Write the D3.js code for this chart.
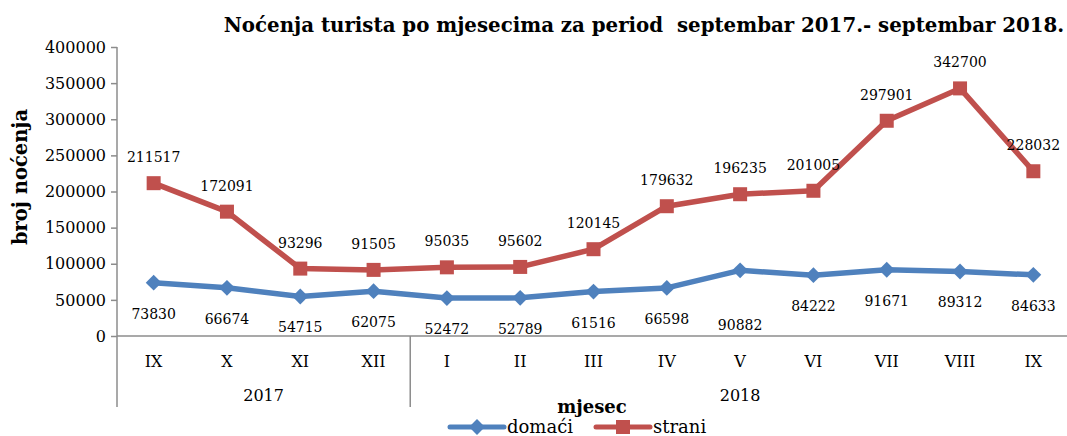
<!DOCTYPE html>
<html>
<head>
<meta charset="utf-8">
<script src="https://cdn.jsdelivr.net/npm/d3@7"></script>
<style>
  body { margin: 0; background: #fff; }
  svg { font-family: "DejaVu Serif", serif; }
</style>
</head>
<body>
<svg id="canvas" width="1067" height="436"></svg>
<script>
let months = ["IX", "X", "XI", "XII", "I", "II", "III", "IV", "V", "VI", "VII", "VIII", "IX"]
let years = [
    {label: "2017", from: 0, to: 4},
    {label: "2018", from: 4, to: 13}
]
let domaci = [73830, 66674, 54715, 62075, 52472, 52789, 61516, 66598, 90882, 84222, 91671, 89312, 84633]
let strani = [211517, 172091, 93296, 91505, 95035, 95602, 120145, 179632, 196235, 201005, 297901, 342700, 228032]
let yTicks = [0, 50000, 100000, 150000, 200000, 250000, 300000, 350000, 400000]

let blue = "#4f81bd"
let red = "#c0504d"
let axisColor = "#8c8c8c"

let canvas = d3.select("#canvas")

let x = d3.scaleBand()
    .domain(d3.range(months.length))
    .range([117, 1070])
    .padding(0)

let y = d3.scaleLinear()
    .domain([0, 400000])
    .range([336, 47])

let cx = i => x(i) + x.bandwidth() / 2

// title
canvas.append("text")
    .attr("x", 644)
    .attr("y", 32)
    .attr("text-anchor", "middle")
    .attr("font-weight", "bold")
    .attr("font-size", 19.8)
    .style("white-space", "pre")
    .text("Noćenja turista po mjesecima za period  septembar 2017.- septembar 2018.")

// y axis
let yAxis = d3.axisLeft(y)
    .tickValues(yTicks)
    .tickSize(6)
    .tickFormat(d => d)

let gy = canvas.append("g")
    .attr("transform", "translate(117,0)")
    .call(yAxis)

gy.select(".domain").remove()
gy.selectAll(".tick line").attr("stroke", axisColor).attr("stroke-width", 1.5)
gy.selectAll(".tick text")
    .attr("font-family", "DejaVu Serif")
    .attr("font-size", 16)
    .attr("fill", "#000")
    .attr("x", -11)

canvas.append("line")
    .attr("x1", 117).attr("x2", 117)
    .attr("y1", 47).attr("y2", 407)
    .attr("stroke", axisColor).attr("stroke-width", 1.5)

// x axis line
canvas.append("line")
    .attr("x1", 117).attr("x2", 1067)
    .attr("y1", y(0)).attr("y2", y(0))
    .attr("stroke", axisColor).attr("stroke-width", 1.5)

// month labels
canvas.append("g").selectAll("text")
    .data(months)
    .enter()
    .append("text")
    .attr("x", (d, i) => cx(i))
    .attr("y", 367)
    .attr("text-anchor", "middle")
    .attr("font-size", 16)
    .text(d => d)

// year labels and divider
years.forEach((yr, k) => {
    let x0 = x(yr.from)
    let x1 = yr.to >= months.length ? x.range()[1] : x(yr.to)
    canvas.append("text")
        .attr("x", (x0 + x1) / 2)
        .attr("y", 401)
        .attr("text-anchor", "middle")
        .attr("font-size", 16)
        .text(yr.label)
    if (k > 0) {
        canvas.append("line")
            .attr("x1", x0).attr("x2", x0)
            .attr("y1", y(0)).attr("y2", 407)
            .attr("stroke", axisColor).attr("stroke-width", 1.5)
    }
})

// axis titles
canvas.append("text")
    .attr("transform", "translate(27,177) rotate(-90)")
    .attr("text-anchor", "middle")
    .attr("font-weight", "bold")
    .attr("font-size", 19.5)
    .text("broj noćenja")

canvas.append("text")
    .attr("x", 592)
    .attr("y", 413)
    .attr("text-anchor", "middle")
    .attr("font-weight", "bold")
    .attr("font-size", 18)
    .text("mjesec")

let line = d3.line()
    .x((d, i) => cx(i))
    .y(d => y(d))

let diamond = d3.symbol().type(d3.symbolDiamond2).size(160)

let drawSeries = (values, color, marker, labelDy) => {
    let g = canvas.append("g")
    g.append("path")
        .datum(values)
        .attr("d", line)
        .attr("fill", "none")
        .attr("stroke", color)
        .attr("stroke-width", 5.5)
        .attr("stroke-linejoin", "round")

    if (marker === "diamond") {
        g.selectAll("path.m")
            .data(values)
            .enter()
            .append("path")
            .attr("class", "m")
            .attr("d", diamond)
            .attr("transform", (d, i) => "translate(" + cx(i) + "," + y(d) + ")")
            .attr("fill", color)
    } else {
        g.selectAll("rect")
            .data(values)
            .enter()
            .append("rect")
            .attr("x", (d, i) => cx(i) - 7)
            .attr("y", d => y(d) - 7)
            .attr("width", 14)
            .attr("height", 14)
            .attr("fill", color)
    }

    g.selectAll("text")
        .data(values)
        .enter()
        .append("text")
        .attr("x", (d, i) => cx(i))
        .attr("y", (d, i) => y(d) + labelDy(d, i))
        .attr("text-anchor", "middle")
        .attr("font-size", 14)
        .text(d => d)
}

drawSeries(strani, red, "square", () => -21)
// the V label sits lower in the original, clear of the red line
drawSeries(domaci, blue, "diamond", (d, i) => i === 8 ? 60 : 36)

// legend
let legend = [
    {name: "domaći", color: blue, marker: "diamond", x: 450},
    {name: "strani", color: red, marker: "square", x: 596}
]

legend.forEach(l => {
    let ly = 427
    canvas.append("line")
        .attr("x1", l.x).attr("x2", l.x + 54)
        .attr("y1", ly).attr("y2", ly)
        .attr("stroke", l.color)
        .attr("stroke-width", 5)
        .attr("stroke-linecap", "round")
    if (l.marker === "diamond") {
        canvas.append("path")
            .attr("d", diamond)
            .attr("transform", "translate(" + (l.x + 27) + "," + ly + ")")
            .attr("fill", l.color)
    } else {
        canvas.append("rect")
            .attr("x", l.x + 27 - 7).attr("y", ly - 7)
            .attr("width", 14).attr("height", 14)
            .attr("fill", l.color)
    }
    canvas.append("text")
        .attr("x", l.x + 57)
        .attr("y", ly + 6)
        .attr("font-size", 18)
        .text(l.name)
})
</script>
</body>
</html>
